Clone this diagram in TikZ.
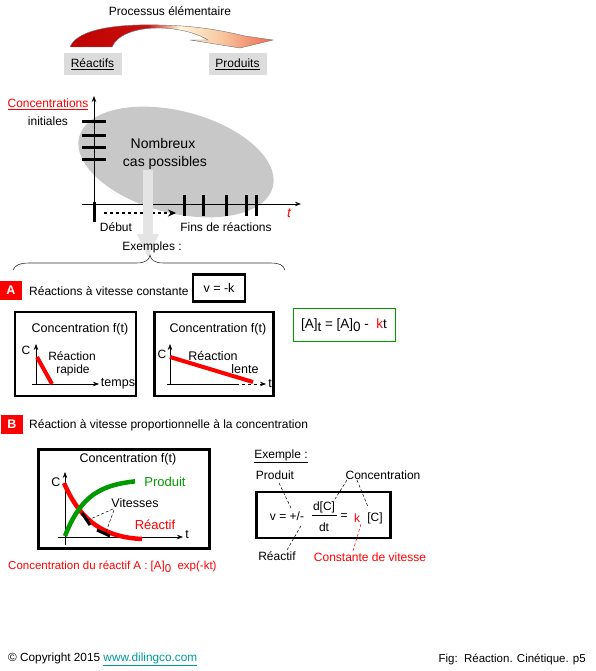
\documentclass[tikz,border=0pt]{standalone}
\usepackage{fontspec}
\setmainfont{Liberation Sans}
\usetikzlibrary{arrows.meta}
\definecolor{dred}{HTML}{C00000}
\definecolor{dred2}{HTML}{C81010}
\definecolor{cream}{HTML}{FFF5DC}
\definecolor{peach}{HTML}{F8C8A0}
\definecolor{salm}{HTML}{EE6A50}
\definecolor{fgreen}{HTML}{009900}
\definecolor{linkc}{HTML}{009999}
\definecolor{boxgray}{HTML}{DCDCDC}
\definecolor{ellgray}{HTML}{C8C8C8}
\definecolor{arrgray}{HTML}{E4E4E4}
\pgfdeclarehorizontalshading{procshade}{100bp}{color(0bp)=(dred); color(25bp)=(dred); color(44bp)=(dred2); color(52bp)=(cream); color(62bp)=(peach); color(75bp)=(salm); color(100bp)=(salm)}
\begin{document}
\begin{tikzpicture}[x=1pt,y=-1pt,
  every node/.style={font=\fontsize{12}{14}\selectfont, inner sep=0pt},
  axisarrow/.style={line width=0.9pt,-{Stealth[length=6pt,width=4.5pt]}},
  plotbox/.style={draw, line width=2.6pt},
  tickmark/.style={line width=3pt},
  redbar/.style={red, line width=4pt},
  leader/.style={line width=0.5pt, dash pattern=on 3pt off 2pt},
  tag/.style={fill=red, text=white, font=\fontsize{12.5}{14}\selectfont\bfseries, minimum width=22pt, minimum height=19pt},
  graybox/.style={fill=boxgray, minimum width=58pt, minimum height=22pt},
  bigtxt/.style={font=\fontsize{14}{16}\selectfont},
  ttl/.style={font=\fontsize{12.5}{14}\selectfont}
]
\useasboundingbox (0,0) rectangle (595,671);

% ---------- top : elementary process ----------
\node (proc) at (170,11) {Processus élémentaire};
\shadedraw[shading=procshade, draw=black!55, line width=0.4pt]
  (70,47) .. controls (78,28) and (120,24) .. (160,25) .. controls (195,26) and (215,29) .. (245,36)
  -- (273,40) -- (240,48) -- (190,40) -- (208,40)
  .. controls (195,32) and (175,28) .. (158,28) .. controls (135,28) and (117,35) .. (112,47) -- cycle;
\node[graybox] (reac) at (92.5,64) {\underline{Réactifs}};
\node[graybox] (prod) at (237.5,64) {\underline{Produits}};

% ---------- general graph ----------
\fill[ellgray, rotate around={-14.5:(176,162)}] (176,162) ellipse [x radius=100pt, y radius=51pt];
\node[red] (conc) at (48,104) {\underline{Concentrations}};
\node (init) at (48,121) {initiales};
\draw[axisarrow] (94,206) -- (94,96);
\draw[axisarrow] (82,204) -- (301,204);
\draw[tickmark] (94,202) -- (94,222);
\foreach \y in {122,136,148,160} \draw[tickmark] (82,\y) -- (106,\y);
\foreach \x in {184,203,226,246,256} \draw[tickmark] (\x,195) -- (\x,216);
\node[red, font=\fontsize{13.5}{15}\selectfont\itshape] (tlab) at (289,213) {t};
\node[bigtxt] (nomb) at (163,143) {Nombreux};
\node[bigtxt] (cas) at (165,163) {cas possibles};
\draw[line width=2.6pt, dash pattern=on 3pt off 3pt, -{Stealth[length=8pt,width=7pt]}] (104,213) -- (176,213);
\node (debut) at (116,227) {Début};
\node (fins) at (226,227) {Fins de réactions};
\fill[arrgray] (143,170) rectangle (153,236);
\fill[arrgray] (137,234) -- (159,234) -- (148,257) -- cycle;
\node (ex) at (152,247) {Exemples :};
\draw[line width=0.6pt, black!80] (13,270) .. controls (15,265) and (20,263) .. (30,263) -- (136,263)
  .. controls (146,263) and (149,260) .. (150,255) .. controls (151,260) and (154,263) .. (164,263)
  -- (270,263) .. controls (280,263) and (283,265) .. (285,270);

% ---------- section A ----------
\node[tag] (A) at (11,290) {A};
\node[anchor=west] (Atxt) at (29,291) {Réactions à vitesse constante};
\node[draw, line width=2.2pt, minimum width=52pt, minimum height=27pt, ttl] (vk) at (219,288) {v = -k};

\node[plotbox, minimum width=121pt, minimum height=84pt] (box1) at (75.5,354) {};
\node[ttl] (t1) at (80,329) {Concentration f(t)};
\draw[axisarrow, line width=0.7pt] (36,385) -- (36,344);
\draw[axisarrow, line width=0.7pt] (32,384) -- (99,384);
\node (c1) at (26,350) {C};
\draw[redbar] (37,357) -- (52,384);
\node (r1) at (72,356) {Réaction};
\node (r2) at (73,370) {rapide};
\node[ttl] (temps) at (118,384) {temps};

\node[plotbox, minimum width=119pt, minimum height=84pt] (box2) at (214,354) {};
\node[ttl] (t2) at (218,329) {Concentration f(t)};
\draw[axisarrow, line width=0.7pt] (170,385) -- (170,344);
\draw[line width=0.7pt] (167,384) -- (236,384);
\draw[axisarrow, line width=0.7pt, dash pattern=on 3pt off 3pt] (236,384) -- (266,384);
\node (c2) at (162,354) {C};
\draw[redbar] (170,357) -- (253,382);
\node[ttl] (r3) at (213,356) {Réaction};
\node[ttl] (r4) at (245,369) {lente};
\node[ttl] (tt2) at (270,384) {t};

\node[draw=fgreen, line width=0.9pt, minimum width=102pt, minimum height=33pt, font=\fontsize{13.5}{15}\selectfont] (eqA) at (344,325)
  {[A]\raisebox{-3.5pt}{t} = [A]\raisebox{-3.5pt}{0} -\ \ \textcolor{red}{k}t};

% ---------- section B ----------
\node[tag] (B) at (12,424) {B};
\node[anchor=west] (Btxt) at (29,425) {Réaction à vitesse proportionnelle à la concentration};

\node[plotbox, minimum width=171pt, minimum height=99pt] (box3) at (124,499) {};
\node[ttl] (t3) at (128,459) {Concentration f(t)};
\draw[axisarrow, line width=0.7pt] (65,545) -- (65,472);
\draw[axisarrow, line width=0.7pt] (58,537) -- (183,537);
\node[ttl] (c3) at (56,482) {C};
\node[ttl] (tt3) at (187,535) {t};
\draw[red, line width=4.5pt] (64,483) .. controls (78,515) and (98,537) .. (142,539);
\draw[fgreen, line width=4.5pt] plot[domain=0:70, samples=40, smooth] ({65+\x},{536-57*(1-exp(-\x/22))});
\draw[line width=3pt] (82,513) -- (90,525);
\draw[line width=3pt] (97,530) -- (110,536);
\node[fgreen, font=\fontsize{13}{15}\selectfont] (prodB) at (165,482) {Produit};
\node[ttl] (vit) at (135,503) {Vitesses};
\node[red, font=\fontsize{13}{15}\selectfont] (reacB) at (155,525) {Réactif};
\draw[leader] (113,509) -- (88,520);
\draw[leader] (114,510) -- (106,532);
\node[red, anchor=west, font=\fontsize{11.5}{13}\selectfont] (capB) at (8,567) {Concentration du réactif A : [A]\raisebox{-3.5pt}{0}\ \ exp(-kt)};

% ---------- example ----------
\node (exm) at (281,456) {\underline{Exemple :}};
\node (produit) at (275,475) {Produit};
\node (concn) at (383,475) {Concentration};
\node[draw, line width=2.8pt, minimum width=134pt, minimum height=46pt] (fbox) at (323.5,515) {};
\node (vpm) at (287,516) {v = +/-};
\node (dC) at (324,507) {d[C]};
\draw[line width=0.5pt] (312,515) -- (337,515);
\node (dt) at (324,527) {dt};
\node (eq) at (344,517) {=};
\node[red] (kk) at (357,518) {k};
\node (CC) at (375,518) {[C]};
\node (reactif) at (277,556) {Réactif};
\node[red] (cst) at (370,557) {Constante de vitesse};
\draw[leader] (279,483) -- (291,508);
\draw[leader] (287,550) -- (302,524);
\draw[leader] (347,480) -- (335,499);
\draw[leader] (357,480) -- (368,507);
\draw[leader, red] (353,551) -- (361,524);

% ---------- footer ----------
\node[anchor=west, font=\fontsize{11.8}{13}\selectfont] (copy) at (8,659) {© Copyright 2015 \textcolor{linkc}{\underline{www.dilingco.com}}};
\node[anchor=east, font=\fontsize{11.5}{13}\selectfont] (fig) at (586,659) {Fig:\ \ Réaction. Cinétique. p5};
\end{tikzpicture}
\end{document}
